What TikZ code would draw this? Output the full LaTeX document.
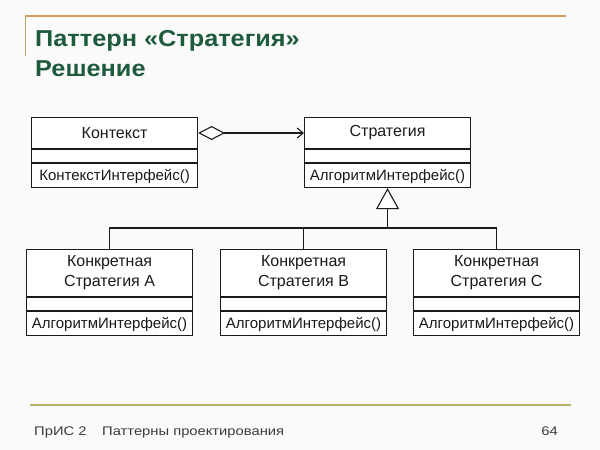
\documentclass[tikz,border=0pt]{standalone}
\usepackage{fontspec}
\setmainfont{Liberation Sans}
\newfontfamily\widefont[FakeStretch=1.1]{Liberation Sans}
\newfontfamily\footfont[FakeStretch=1.18]{Liberation Sans}
\usetikzlibrary{arrows.meta}
\definecolor{titlegreen}{HTML}{1E5B3C}
\definecolor{topline}{HTML}{D2A060}
\definecolor{sideline}{HTML}{B8A860}
\definecolor{footline}{HTML}{B5B06A}
\definecolor{bg}{HTML}{FAFAFA}
\definecolor{ink}{HTML}{1A1A1A}
\tikzset{
  classbox/.style={draw=ink, line width=1.1pt, fill=white, rectangle, inner sep=0pt, minimum width=166pt, anchor=north west},
  classtxt/.style={font=\fontsize{15}{20}\selectfont, text=ink, align=center, inner sep=0pt},
  nametxt/.style={classtxt, font=\fontsize{16}{20}\selectfont},
  divider/.style={draw=ink, line width=1.1pt},
  conn/.style={draw=ink, line width=1.1pt},
  titletxt/.style={font=\widefont\fontsize{23}{27}\selectfont\bfseries, text=titlegreen, anchor=base west, inner sep=0pt},
  foottxt/.style={font=\footfont\fontsize{12.5}{14}\selectfont, text=ink!85, anchor=base west, inner sep=0pt}
}
\begin{document}
\begin{tikzpicture}[x=1pt,y=-1pt]
\fill[bg] (0,0) rectangle (600,450);
\useasboundingbox (0,0) rectangle (600,450);
% header rules
\draw[topline, line width=1.3pt] (25,16) -- (566,16);
\draw[sideline, line width=1pt] (25,16) -- (25,56);
\node[titletxt] (t1) at (35,46) {Паттерн «Стратегия»};
\node[titletxt] (t2) at (35,76) {Решение};
% classes
\node[classbox, minimum height=70pt] (ctx) at (31,117) {};
\node[classbox, minimum height=70pt] (str) at (304,117) {};
\node[classbox, minimum height=86pt] (ca) at (26,249) {};
\node[classbox, minimum height=86pt] (cb) at (220,249) {};
\node[classbox, minimum height=86pt] (cc) at (413,249) {};
% dividers
\foreach \n in {ctx,str}{
  \draw[divider] ([yshift=-32pt]\n.north west) -- ([yshift=-32pt]\n.north east);
  \draw[divider] ([yshift=-46pt]\n.north west) -- ([yshift=-46pt]\n.north east);
}
\foreach \n in {ca,cb,cc}{
  \draw[divider] ([yshift=-48pt]\n.north west) -- ([yshift=-48pt]\n.north east);
  \draw[divider] ([yshift=-62pt]\n.north west) -- ([yshift=-62pt]\n.north east);
}
% texts
\node[nametxt] (ctxn) at ([yshift=-16pt]ctx.north) {Контекст};
\node[classtxt] (ctxm) at ([yshift=12pt]ctx.south) {КонтекстИнтерфейс()};
\node[nametxt] (strn) at ([yshift=-16pt]str.north) {Стратегия};
\node[classtxt] (strm) at ([yshift=12pt]str.south) {АлгоритмИнтерфейс()};
\node[nametxt] (can) at ([yshift=-24pt]ca.north) {Конкретная\\Стратегия A};
\node[classtxt] (cam) at ([yshift=12pt]ca.south) {АлгоритмИнтерфейс()};
\node[nametxt] (cbn) at ([yshift=-24pt]cb.north) {Конкретная\\Стратегия B};
\node[classtxt] (cbm) at ([yshift=12pt]cb.south) {АлгоритмИнтерфейс()};
\node[nametxt] (ccn) at ([yshift=-24pt]cc.north) {Конкретная\\Стратегия C};
\node[classtxt] (ccm) at ([yshift=12pt]cc.south) {АлгоритмИнтерфейс()};
% aggregation
\coordinate (aggS) at ([yshift=-16pt]ctx.north east);
\coordinate (aggE) at ([yshift=-16pt]str.north west);
\draw[conn, {Diamond[open, fill=white, length=27pt, width=14pt, line width=1.1pt]}-{Straight Barb[length=6pt, width=10pt, line width=1.1pt]}] (aggS) -- (aggE);
% inheritance
\coordinate (bus) at (0,228);
\draw[conn] (ca.north) -- (ca.north |- bus) -- (cc.north |- bus) -- (cc.north);
\draw[conn] (cb.north) -- (cb.north |- bus);
\draw[conn, -{Triangle[open, fill=white, length=21pt, width=23pt, line width=1.1pt]}] (str.south |- bus) -- (str.south);
% footer
\draw[footline, line width=1.1pt] (30,405) -- (571,405);
\node[foottxt] (f1) at (34,435) {ПрИС 2};
\node[foottxt] (f2) at (102,435) {Паттерны проектирования};
\node[foottxt, anchor=base east] (f3) at (558,435) {64};
\end{tikzpicture}
\end{document}
